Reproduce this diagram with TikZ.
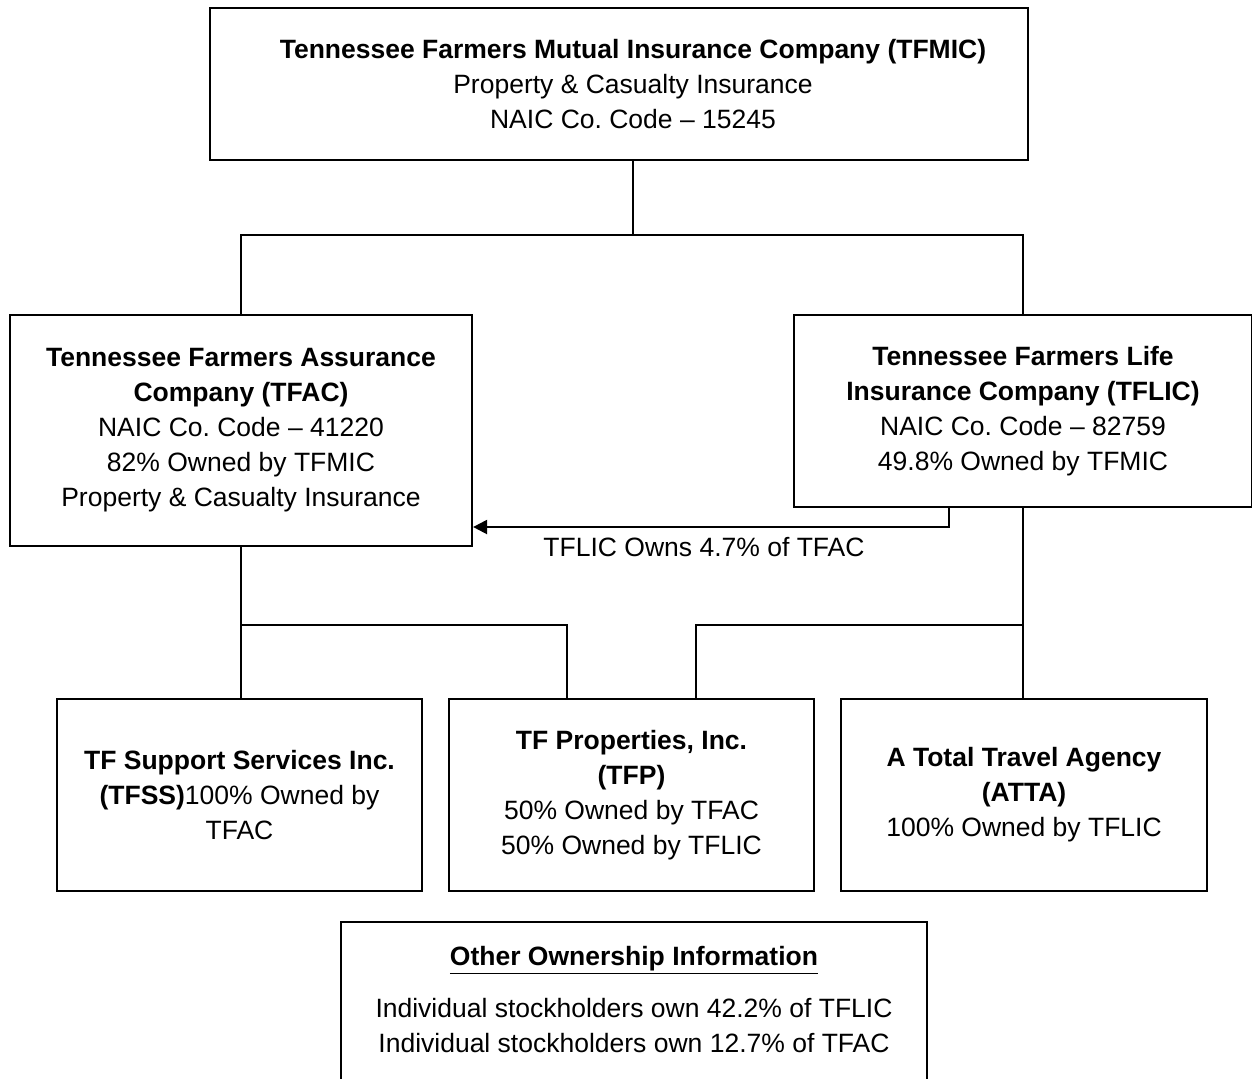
\documentclass[tikz,border=0pt]{standalone}
\usepackage{fontspec}
\setmainfont{Liberation Sans}
\frenchspacing
\usetikzlibrary{arrows.meta,positioning}

\tikzset{
  orgbox/.style={draw, line width=1.1pt, inner sep=0pt, align=center,
    font=\fontsize{13.25}{17.5}\selectfont},
  orgline/.style={line width=1.1pt},
}

\begin{document}
\begin{tikzpicture}[x=0.5pt, y=-0.5pt]
    \clip (0,0) rectangle (1252,1078);
    \fill[white] (0,0) rectangle (1252,1078);

    % parent company
    \node[orgbox, minimum width=409pt, minimum height=76pt] (tfmic) at (619,84) {};
    \node[orgbox, draw=none] (tfmictext) at (633,84)
        {\textbf{Tennessee Farmers Mutual Insurance Company (TFMIC)}\\
         Property \& Casualty Insurance\\NAIC Co. Code -- 15245};

    % second level
    \node[orgbox, minimum width=231pt, minimum height=115.5pt] (tfac) at (241,430.5)
        {\textbf{Tennessee Farmers Assurance}\\\textbf{Company (TFAC)}\\
         NAIC Co. Code -- 41220\\82\% Owned by TFMIC\\Property \& Casualty Insurance};
    \node[orgbox, minimum width=229pt, minimum height=96pt] (tflic) at (1023,411)
        {\textbf{Tennessee Farmers Life}\\\textbf{Insurance Company (TFLIC)}\\
         NAIC Co. Code -- 82759\\49.8\% Owned by TFMIC};

    % subsidiaries
    \node[orgbox, minimum width=182.5pt, minimum height=96pt] (tfss) at (239.5,795)
        {\textbf{TF Support Services Inc.}\\\textbf{(TFSS)}100\% Owned by\\TFAC};
    \node[orgbox, minimum width=182.5pt, minimum height=96pt] (tfp) at (631.5,795)
        {\textbf{TF Properties, Inc.}\\\textbf{(TFP)}\\50\% Owned by TFAC\\50\% Owned by TFLIC};
    \node[orgbox, minimum width=183pt, minimum height=96pt] (atta) at (1024,795)
        {\textbf{A Total Travel Agency}\\\textbf{(ATTA)}\\100\% Owned by TFLIC};

    % other ownership
    \node[orgbox, minimum width=293pt, minimum height=90pt, anchor=north] (other) at (634,921) {};
    \node[orgbox, draw=none, below=12pt of other.north] (otherinfo)
        {\underline{\textbf{Other Ownership Information}}\\[8.5pt]
         Individual stockholders own 42.2\% of TFLIC\\
         Individual stockholders own 12.7\% of TFAC};

    % connectors
    \coordinate (busA) at (633,235);
    \coordinate (tfpa) at (567,625);
    \coordinate (tfpb) at (696,625);
    \coordinate (own) at (949,527);
    \draw[orgline] (busA |- tfmic.south) -- (busA);
    \draw[orgline] (tfac.north) |- (busA) -| (tflic.north);
    \draw[orgline] (tfac.south) -- (tfac.south |- tfss.north);
    \draw[orgline] (tfac.south |- tfpa) -- (tfpa) -- (tfpa |- tfp.north);
    \draw[orgline] (tflic.south) -- (tflic.south |- atta.north);
    \draw[orgline] (tflic.south |- tfpb) -- (tfpb) -- (tfpb |- tfp.north);
    \draw[orgline, -{Triangle[length=7pt,width=7pt]}] (own |- tflic.south) -- (own) -- (own -| tfac.east);
    \node[font=\fontsize{13.25}{17.5}\selectfont] (ownlabel) at (704,547) {TFLIC Owns 4.7\% of TFAC};
\end{tikzpicture}
\end{document}
